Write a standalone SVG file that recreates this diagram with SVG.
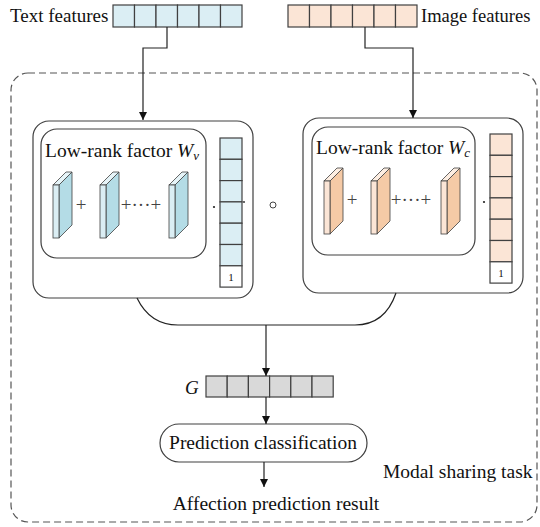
<svg xmlns="http://www.w3.org/2000/svg" width="540" height="527" viewBox="0 0 540 527">
<style>
.t{font-family:"Liberation Serif","Times New Roman",serif;fill:#111;}
.pl{font-family:"Liberation Serif","Times New Roman",serif;fill:#444;}
.cb{fill:#dbeef4;stroke:#404040;stroke-width:1.2;}
.co{fill:#fbe5d6;stroke:#404040;stroke-width:1.2;}
.cg{fill:#d9d9d9;stroke:#404040;stroke-width:1.2;}
.cw{fill:#fff;stroke:#404040;stroke-width:1.2;}
.box{fill:none;stroke:#404040;stroke-width:1.2;}
.ln{fill:none;stroke:#222;stroke-width:1.2;}
</style>
<defs>
<marker id="ah" viewBox="0 0 10 10" refX="10" refY="5" markerWidth="8" markerHeight="8" markerUnits="userSpaceOnUse" orient="auto">
<path d="M0,0 L10,5 L0,10 z" fill="#111"/>
</marker>
<g id="slabV">
<path d="M6,13 L19,0 L19,53 L6,66 z" fill="#b4dce6" stroke="#404040" stroke-width="0.8"/>
<path d="M0,13 L13,0 L19,0 L6,13 z" fill="#e6f4f8" stroke="#404040" stroke-width="0.8"/>
<rect x="0" y="13" width="6" height="53" fill="#dbeef4" stroke="#404040" stroke-width="0.8"/>
</g>
<g id="slabC">
<path d="M6,13 L19,0 L19,53 L6,66 z" fill="#f5caa6" stroke="#404040" stroke-width="0.8"/>
<path d="M0,13 L13,0 L19,0 L6,13 z" fill="#fdeee2" stroke="#404040" stroke-width="0.8"/>
<rect x="0" y="13" width="6" height="53" fill="#fbe5d6" stroke="#404040" stroke-width="0.8"/>
</g>
</defs>

<g id="modal-sharing">
<rect x="11" y="73" width="526" height="449" rx="17" fill="none" stroke="#555" stroke-width="1.2" stroke-dasharray="7,4"/>
<text class="t" x="383" y="478" font-size="19.5">Modal sharing task</text>
</g>

<g id="text-features">
<text class="t" x="10" y="22" font-size="19">Text features</text>
<rect class="cb" x="113" y="5" width="21.5" height="22"/>
<rect class="cb" x="134.5" y="5" width="21.5" height="22"/>
<rect class="cb" x="156" y="5" width="21.5" height="22"/>
<rect class="cb" x="177.5" y="5" width="21.5" height="22"/>
<rect class="cb" x="199" y="5" width="21.5" height="22"/>
<rect class="cb" x="220.5" y="5" width="21.5" height="22"/>
</g>

<g id="image-features">
<rect class="co" x="288" y="5" width="21.5" height="22"/>
<rect class="co" x="309.5" y="5" width="21.5" height="22"/>
<rect class="co" x="331" y="5" width="21.5" height="22"/>
<rect class="co" x="352.5" y="5" width="21.5" height="22"/>
<rect class="co" x="374" y="5" width="21.5" height="22"/>
<rect class="co" x="395.5" y="5" width="21.5" height="22"/>
<text class="t" x="421" y="22" font-size="18.5">Image features</text>
</g>

<g id="text-branch">
<rect class="box" x="33" y="121" width="220" height="177" rx="16"/>
<g id="factor-v">
<rect class="box" x="41" y="129" width="165" height="129" rx="16"/>
<text class="t" x="45" y="157" font-size="19.5">Low-rank factor <tspan font-style="italic">W</tspan><tspan font-style="italic" font-size="13" dy="3">v</tspan></text>
<use href="#slabV" x="53" y="172"/>
<use href="#slabV" x="100" y="172"/>
<use href="#slabV" x="169" y="172"/>
<text class="pl" x="81" y="211" font-size="19" text-anchor="middle">+</text>
<text class="pl" x="141" y="211" font-size="19" text-anchor="middle">+···+</text>
</g>
<circle cx="214" cy="207" r="1.1" fill="#222"/>
<g id="vec-v">
<rect class="cb" x="220" y="138" width="22" height="21.3"/>
<rect class="cb" x="220" y="159.3" width="22" height="21.3"/>
<rect class="cb" x="220" y="180.6" width="22" height="21.3"/>
<rect class="cb" x="220" y="201.9" width="22" height="21.3"/>
<rect class="cb" x="220" y="223.2" width="22" height="21.3"/>
<rect class="cb" x="220" y="244.5" width="22" height="21.3"/>
<rect class="cw" x="220" y="265.8" width="22" height="21.3"/>
<text class="t" x="231" y="281" font-size="11" text-anchor="middle">1</text>
<circle cx="244" cy="202" r="0.9" fill="#222"/>
</g>
</g>

<g id="outer-product">
<circle cx="273" cy="205" r="3" fill="none" stroke="#444" stroke-width="1"/>
</g>

<g id="image-branch">
<rect class="box" x="303" y="118" width="220" height="175" rx="16"/>
<g id="factor-c">
<rect class="box" x="312" y="127" width="163" height="128" rx="16"/>
<text class="t" x="316" y="154" font-size="19.5">Low-rank factor <tspan font-style="italic">W</tspan><tspan font-style="italic" font-size="13" dy="3">c</tspan></text>
<use href="#slabC" x="324" y="168"/>
<use href="#slabC" x="371" y="168"/>
<use href="#slabC" x="441" y="168"/>
<text class="pl" x="352" y="206" font-size="19" text-anchor="middle">+</text>
<text class="pl" x="411" y="206" font-size="19" text-anchor="middle">+···+</text>
</g>
<circle cx="484" cy="202" r="1.1" fill="#222"/>
<g id="vec-c">
<rect class="co" x="490" y="134" width="22" height="21.3"/>
<rect class="co" x="490" y="155.3" width="22" height="21.3"/>
<rect class="co" x="490" y="176.6" width="22" height="21.3"/>
<rect class="co" x="490" y="197.9" width="22" height="21.3"/>
<rect class="co" x="490" y="219.2" width="22" height="21.3"/>
<rect class="co" x="490" y="240.5" width="22" height="21.3"/>
<rect class="cw" x="490" y="261.8" width="22" height="21.3"/>
<text class="t" x="501" y="277" font-size="11" text-anchor="middle">1</text>
</g>
</g>

<g id="g-vector">
<text class="t" x="185" y="394" font-size="19" font-style="italic">G</text>
<rect class="cg" x="206" y="376" width="21.2" height="21"/>
<rect class="cg" x="227.2" y="376" width="21.2" height="21"/>
<rect class="cg" x="248.4" y="376" width="21.2" height="21"/>
<rect class="cg" x="269.6" y="376" width="21.2" height="21"/>
<rect class="cg" x="290.8" y="376" width="21.2" height="21"/>
<rect class="cg" x="312" y="376" width="21.2" height="21"/>
</g>

<g id="prediction-classification">
<rect class="box" x="160" y="424" width="207" height="38" rx="19"/>
<text class="t" x="263" y="449" font-size="19.5" text-anchor="middle">Prediction classification</text>
</g>

<g id="result">
<text class="t" x="276" y="510" font-size="19.5" text-anchor="middle">Affection prediction result</text>
</g>

<g id="connectors">
<path class="ln" d="M167,27 V48 H143 V120" marker-end="url(#ah)"/>
<path class="ln" d="M365,27 V48 H413 V118" marker-end="url(#ah)"/>
<path class="ln" d="M137,298 Q150,325 178,325 H355 Q385,325 396,293"/>
<path class="ln" d="M266,325 V376" marker-end="url(#ah)"/>
<path class="ln" d="M266,397 V424" marker-end="url(#ah)"/>
<path class="ln" d="M264,462 V487" marker-end="url(#ah)"/>
</g>
</svg>
